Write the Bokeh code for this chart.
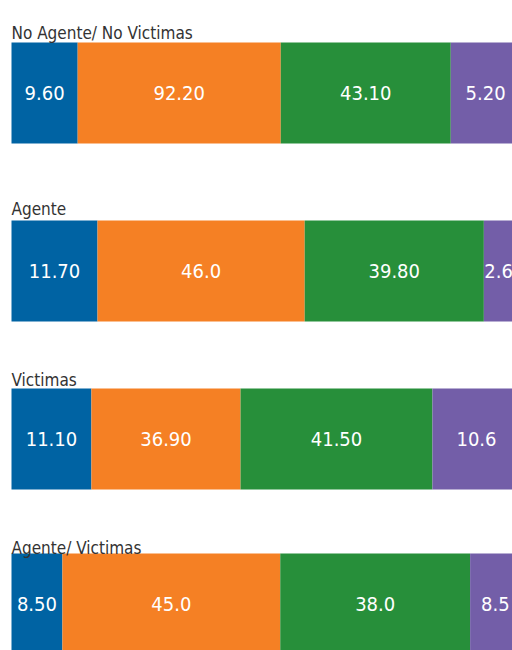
import numpy as np
from bokeh.plotting import figure
from bokeh.models import ColumnDataSource, Range1d
from bokeh.core.properties import value
from bokeh.embed import file_html
from bokeh.resources import INLINE

# ---------------- data ----------------
groups = ["No Agente/ No Victimas", "Agente", "Victimas", "Agente/ Victimas"]
series = ["s1", "s2", "s3", "s4"]
# segment shares (percent of bar length)
share_s1 = [13.0, 16.9, 15.7, 10.0]
share_s2 = [39.9, 40.7, 29.3, 42.8]
share_s3 = [33.4, 35.2, 37.7, 37.3]
share_s4 = [13.7, 5.8, 17.3, 9.9]
# printed labels
label_s1 = ["9.60", "11.70", "11.10", "8.50"]
label_s2 = ["92.20", "46.0", "36.90", "45.0"]
label_s3 = ["43.10", "39.80", "41.50", "38.0"]
label_s4 = ["5.20", "2.6", "10.6", "8.5"]

colors = ["#0063a3", "#f58024", "#278f3a", "#735ea8"]

# ---------------- layout ----------------
W, H = 512, 650
px_per_unit = 5.09
x_off_px = 11
bar_top_px = [42, 220, 388, 553]
bar_h_px = 101
label_base_px = [32, 208, 379, 547]

font_num = "DejaVu Sans Condensed, Roboto"
font_lbl = "DejaVu Sans Condensed, Roboto"

p = figure(width=W, height=H, output_backend="svg", toolbar_location=None,
           x_range=Range1d(-x_off_px / px_per_unit, (W - x_off_px) / px_per_unit),
           y_range=Range1d(H, 0), min_border=0, outline_line_color=None)
p.axis.visible = False
p.grid.visible = False
p.background_fill_color = "white"
p.border_fill_color = "white"

shares = np.array([share_s1, share_s2, share_s3, share_s4])  # series x groups
labels = [label_s1, label_s2, label_s3, label_s4]
rights = np.cumsum(shares, axis=0)
lefts = rights - shares
centers_y = [t + bar_h_px / 2 for t in bar_top_px]

for i in range(len(series)):
    src = ColumnDataSource(dict(
        y=centers_y, left=lefts[i], right=rights[i],
        xc=(lefts[i] + rights[i]) / 2, txt=labels[i]))
    p.hbar(y="y", left="left", right="right", height=bar_h_px, source=src,
           fill_color=colors[i], line_color=None)
    p.text(x="xc", y="y", text="txt", source=src, text_color="white",
           text_font=value(font_num), text_font_size="20px",
           text_align="center", text_baseline="middle")

lsrc = ColumnDataSource(dict(x=[0] * len(groups), y=label_base_px, txt=groups))
p.text(x="x", y="y", text="txt", source=lsrc, text_color="#333333",
       text_font=value(font_lbl), text_font_size="17px",
       text_align="left", text_baseline="alphabetic")

open("out.html", "w").write(file_html(p, INLINE))
